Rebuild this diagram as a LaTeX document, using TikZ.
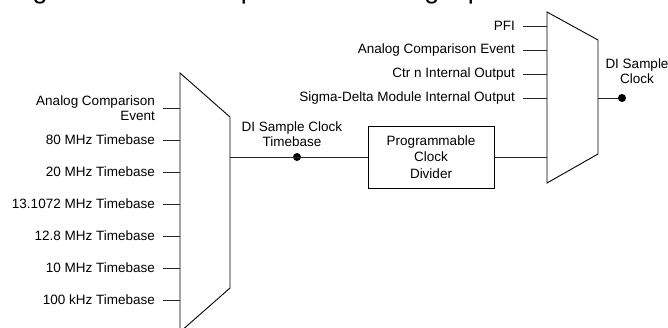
\documentclass[tikz,border=0pt]{standalone}
\usepackage{fontspec}
\setmainfont{Liberation Sans}
\usetikzlibrary{positioning}
\colorlet{mylinecolor}{black!85}
\tikzset{
  sig/.style={draw=mylinecolor,line width=0.9pt},
  muxshape/.style={draw=black,line width=0.9pt,line join=miter},
  inlabel/.style={anchor=east,inner sep=0pt,align=right,
    font=\fontsize{13.5}{15.5}\selectfont},
  outlabel/.style={inner sep=0pt,align=center,
    font=\fontsize{13.5}{15.5}\selectfont},
  tap/.style={circle,fill=black,inner sep=0pt,minimum size=8pt},
  divbox/.style={draw=black,line width=0.9pt,minimum width=126pt,
    minimum height=62pt,align=center,font=\fontsize{13.5}{16.5}\selectfont},
}

\begin{document}
\begin{tikzpicture}[x=1pt,y=-1pt]
  \useasboundingbox (0,0) rectangle (668,327);
  \clip (0,0) rectangle (668,327);
  % title, cut off at the top edge
  \node[anchor=base west,inner sep=0pt,font=\fontsize{27}{30}\selectfont]
    (title) at (10,-2) {Figure 8-4. DI Sample Clock Timing Options};

  % left multiplexer
  \coordinate (ma1) at (180,73);
  \coordinate (ma2) at (230,117);
  \coordinate (ma3) at (230,288);
  \coordinate (ma4) at (180,332);
  \draw[muxshape] (ma1) -- (ma2) -- (ma3) -- (ma4) -- cycle;

  \node[inlabel] (ace) at (155,108) {Analog Comparison\\Event};
  \draw[sig] ([xshift=8pt]ace.east) -- (ace.east -| ma1);
  \foreach \y/\name/\txt in {140/tbA/80 MHz Timebase,172/tbB/20 MHz Timebase,
      204/tbC/13.1072 MHz Timebase,236/tbD/12.8 MHz Timebase,
      268/tbE/10 MHz Timebase,300/tbF/100 kHz Timebase}{
    \node[inlabel] (\name) at (155,\y) {\txt};
    \draw[sig] ([xshift=8pt]\name.east) -- (\name.east -| ma1);
  }

  % timebase and divider
  \coordinate (maout) at (230,157);
  \node[divbox] (div) at (431,157) {Programmable\\Clock\\Divider};
  \node[tap] (tbdot) at (297,157) {};
  \node[outlabel] (tblbl) at (292,134) {DI Sample Clock\\Timebase};
  \draw[sig] (maout) -- (div.west);

  % right multiplexer
  \coordinate (mb1) at (547,12);
  \coordinate (mb2) at (598,40);
  \coordinate (mb3) at (598,154);
  \coordinate (mb4) at (547,183);
  \draw[muxshape] (mb1) -- (mb2) -- (mb3) -- (mb4) -- cycle;
  \draw[sig] (div.east) -- (div.east -| mb1);

  \foreach \y/\name/\txt in {26/pfi/PFI,50/aceB/Analog Comparison Event,
      74/ctr/Ctr n Internal Output,98/sdm/Sigma-Delta Module Internal Output}{
    \node[inlabel] (\name) at (515,\y) {\txt};
    \draw[sig] ([xshift=8pt]\name.east) -- (\name.east -| mb1);
  }

  \node[tap] (clkdot) at (622,98) {};
  \draw[sig] (mb3 |- clkdot) -- (clkdot);
  \node[outlabel] (clklbl) at (637,71) {DI Sample\\Clock};
\end{tikzpicture}
\end{document}
